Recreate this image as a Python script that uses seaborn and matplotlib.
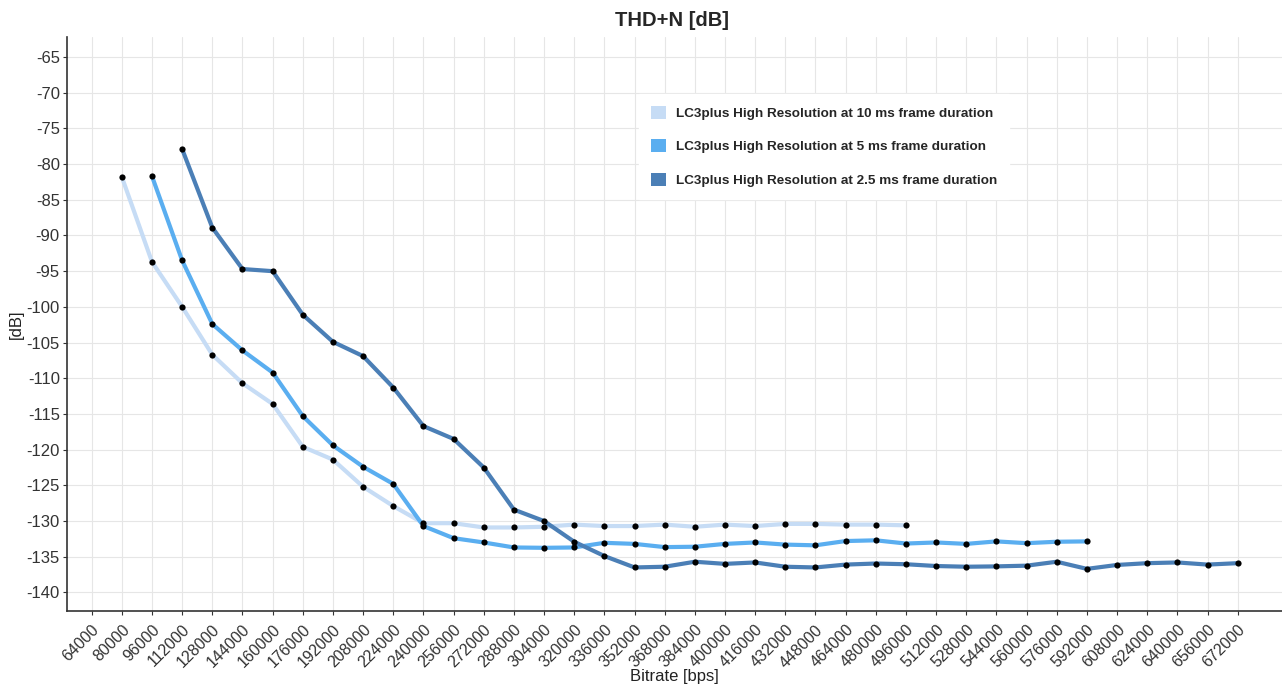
import numpy as np
import pandas as pd
import matplotlib
matplotlib.use("Agg")
import matplotlib.pyplot as plt
import seaborn as sns
from matplotlib.patches import Patch

# ---- data ----
x_10ms = [80000, 96000, 112000, 128000, 144000, 160000, 176000, 192000, 208000, 224000,
          240000, 256000, 272000, 288000, 304000, 320000, 336000, 352000, 368000, 384000,
          400000, 416000, 432000, 448000, 464000, 480000, 496000]
y_10ms = [-81.8, -93.7, -100.0, -106.7, -110.7, -113.6, -119.6, -121.4, -125.2, -127.9,
          -130.3, -130.3, -130.9, -130.9, -130.8, -130.5, -130.7, -130.7, -130.5, -130.8,
          -130.5, -130.7, -130.4, -130.4, -130.5, -130.5, -130.6]

x_5ms = [96000, 112000, 128000, 144000, 160000, 176000, 192000, 208000, 224000,
         240000, 256000, 272000, 288000, 304000, 320000, 336000, 352000, 368000, 384000,
         400000, 416000, 432000, 448000, 464000, 480000, 496000, 512000, 528000, 544000,
         560000, 576000, 592000]
y_5ms = [-81.7, -93.5, -102.4, -106.1, -109.2, -115.3, -119.4, -122.4, -124.8,
         -130.7, -132.4, -133.0, -133.7, -133.75, -133.7, -133.05, -133.2, -133.65, -133.6,
         -133.2, -133.0, -133.3, -133.4, -132.8, -132.7, -133.15, -133.0, -133.2, -132.85,
         -133.1, -132.9, -132.85]

x_2_5ms = [112000, 128000, 144000, 160000, 176000, 192000, 208000, 224000,
           240000, 256000, 272000, 288000, 304000, 320000, 336000, 352000, 368000, 384000,
           400000, 416000, 432000, 448000, 464000, 480000, 496000, 512000, 528000, 544000,
           560000, 576000, 592000, 608000, 624000, 640000, 656000, 672000]
y_2_5ms = [-77.9, -88.9, -94.7, -95.0, -101.1, -104.9, -106.9, -111.3,
           -116.7, -118.5, -122.5, -128.4, -130.0, -132.9, -134.9, -136.5, -136.4, -135.7,
           -136.0, -135.8, -136.4, -136.5, -136.1, -135.95, -136.05, -136.3, -136.4, -136.35,
           -136.25, -135.7, -136.7, -136.15, -135.9, -135.8, -136.1, -135.9]

series_names = ["LC3plus High Resolution at 10 ms frame duration",
                "LC3plus High Resolution at 5 ms frame duration",
                "LC3plus High Resolution at 2.5 ms frame duration"]
x_ticks = list(range(64000, 672001, 16000))
y_ticks = list(range(-140, -64, 5))

colors = ["#c6dcf5", "#5aaef0", "#4b7fb6"]

df = pd.concat([
    pd.DataFrame({"Bitrate": x_10ms, "dB": y_10ms, "series": series_names[0]}),
    pd.DataFrame({"Bitrate": x_5ms, "dB": y_5ms, "series": series_names[1]}),
    pd.DataFrame({"Bitrate": x_2_5ms, "dB": y_2_5ms, "series": series_names[2]}),
], ignore_index=True)

sns.set_style("white")
plt.rcParams['font.family'] = ['Liberation Sans', 'DejaVu Sans']

fig = plt.figure(figsize=(12.82, 6.84), dpi=100)
ax = fig.add_axes([66.7 / 1282, 1 - 611 / 684, (1282 - 66.7) / 1282, (611 - 37) / 684])

sns.lineplot(data=df, x="Bitrate", y="dB", hue="series", hue_order=series_names,
             palette=colors, linewidth=3.0, ax=ax, legend=False, zorder=2)
ax.scatter(df["Bitrate"], df["dB"], s=20, color="black", zorder=3, linewidths=0)

ax.set_xlim(50750, 695500)
ax.set_ylim(-142.6, -62.2)
ax.set_xticks(x_ticks)
ax.set_xticklabels([str(v) for v in x_ticks], rotation=45, ha="right",
                   rotation_mode="anchor", fontsize=11.5, color="#333333")
ax.set_yticks(y_ticks)
ax.set_yticklabels([str(v) for v in y_ticks], fontsize=12, color="#333333")
ax.grid(True, color="#e6e6e6", linewidth=0.8, zorder=0)
ax.set_axisbelow(True)
for s in ["top", "right"]:
    ax.spines[s].set_visible(False)
for s in ["left", "bottom"]:
    ax.spines[s].set_color("#333333")
    ax.spines[s].set_linewidth(1.2)
ax.tick_params(axis="both", which="major", length=3, width=0.8, color="#333333",
               bottom=True, left=True, pad=2)
ax.tick_params(axis="x", pad=5)

ax.set_xlabel("Bitrate [bps]", fontsize=12, color="#222222", labelpad=-1)
ax.set_ylabel("[dB]", fontsize=12, color="#222222", labelpad=2)
fig.text(0.524, 1 - 21 / 684, "THD+N [dB]", ha="center", va="center",
         fontsize=14.5, fontweight="bold")

handles = [Patch(facecolor=c, edgecolor="none") for c in colors]
leg = ax.legend(handles, series_names, loc="upper left",
                bbox_to_anchor=((632 - 66.7) / (1282 - 66.7), 1 - (87 - 37) / (611 - 37)),
                frameon=True, fancybox=False, framealpha=1, edgecolor="white",
                prop={"weight": "bold", "size": 9.7}, handlelength=1.1, handleheight=1.1,
                labelspacing=1.45, borderpad=0.9, handletextpad=0.75)

fig.savefig("out.png", dpi=100, facecolor="white")
